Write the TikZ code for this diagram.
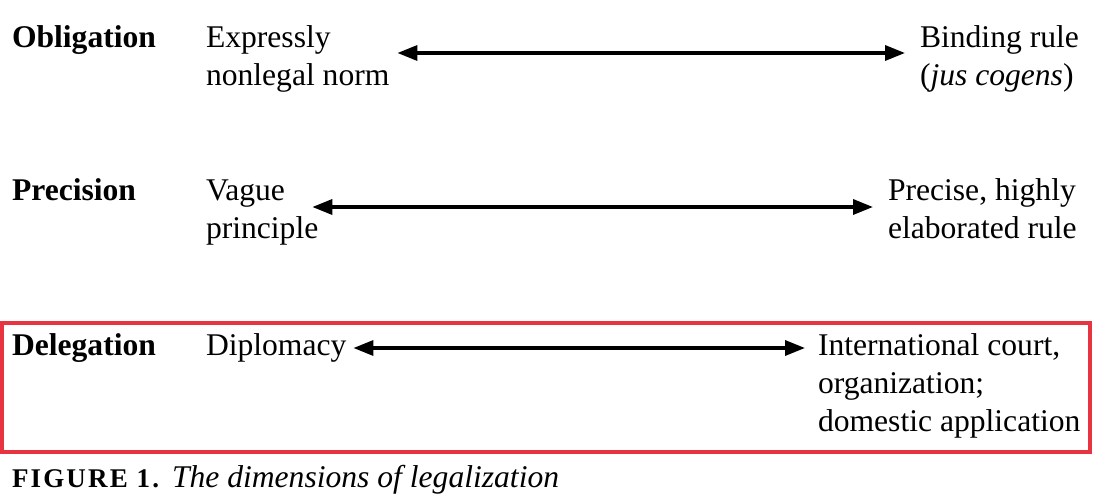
\documentclass[tikz,border=0pt]{standalone}
\usepackage{fontspec}
\setmainfont{Liberation Serif}
\usetikzlibrary{arrows.meta}
\definecolor{framered}{RGB}{232,52,64}

\begin{document}
\begin{tikzpicture}[x=0.5pt,y=-0.5pt,
    every node/.style={inner sep=0pt,outer sep=0pt,align=left,font=\fontsize{15.8}{19}\selectfont},
    dim/.style={anchor=base west,font=\fontsize{15.8}{19}\selectfont\bfseries},
    pole/.style={anchor=base west},
    dimarrow/.style={{Triangle[length=10pt,width=7.5pt]}-{Triangle[length=10pt,width=7.5pt]},line width=1.7pt}]
    \useasboundingbox (0,0) rectangle (1096,502);
    % obligation
    \node [dim] (obl) at (12,48) {Obligation};
    \node [pole] (oblL) at (206,86) {Expressly\\nonlegal norm};
    \node [pole] (oblR) at (920,86) {Binding rule\\(\textit{jus cogens})};
    \coordinate (oblY) at (0,53);
    \draw [dimarrow, shorten <=4pt, shorten >=7.5pt] (oblL.east |- oblY) -- (oblR.west |- oblY);
    % precision
    \node [dim] (pre) at (12,200) {Precision};
    \node [pole] (preL) at (206,238) {Vague\\principle};
    \node [pole] (preR) at (888,238) {Precise, highly\\elaborated rule};
    \coordinate (preY) at (0,207);
    \draw [dimarrow, shorten <=-3pt, shorten >=7.5pt] (preL.east |- preY) -- (preR.west |- preY);
    % delegation
    \node [dim] (del) at (12,355) {Delegation};
    \node [pole] (delL) at (206,355) {Diplomacy};
    \node [pole] (delR) at (818,431) {International court,\\organization;\\domestic application};
    \coordinate (delY) at (0,348);
    \draw [dimarrow, shorten <=3.5pt, shorten >=6.5pt] (delL.east |- delY) -- (delR.west |- delY);
    \draw [framered, line width=1.6pt] (2,323) rectangle (1090,452);
    % caption
    \node [anchor=base west, font=\fontsize{13.5}{16}\selectfont\bfseries\addfontfeatures{LetterSpace=8}] (capno) at (12,487) {FIGURE 1.};
    \node [anchor=base west, font=\fontsize{15.8}{19}\selectfont\itshape] (captxt) at (172,487) {The dimensions of legalization};
\end{tikzpicture}
\end{document}
